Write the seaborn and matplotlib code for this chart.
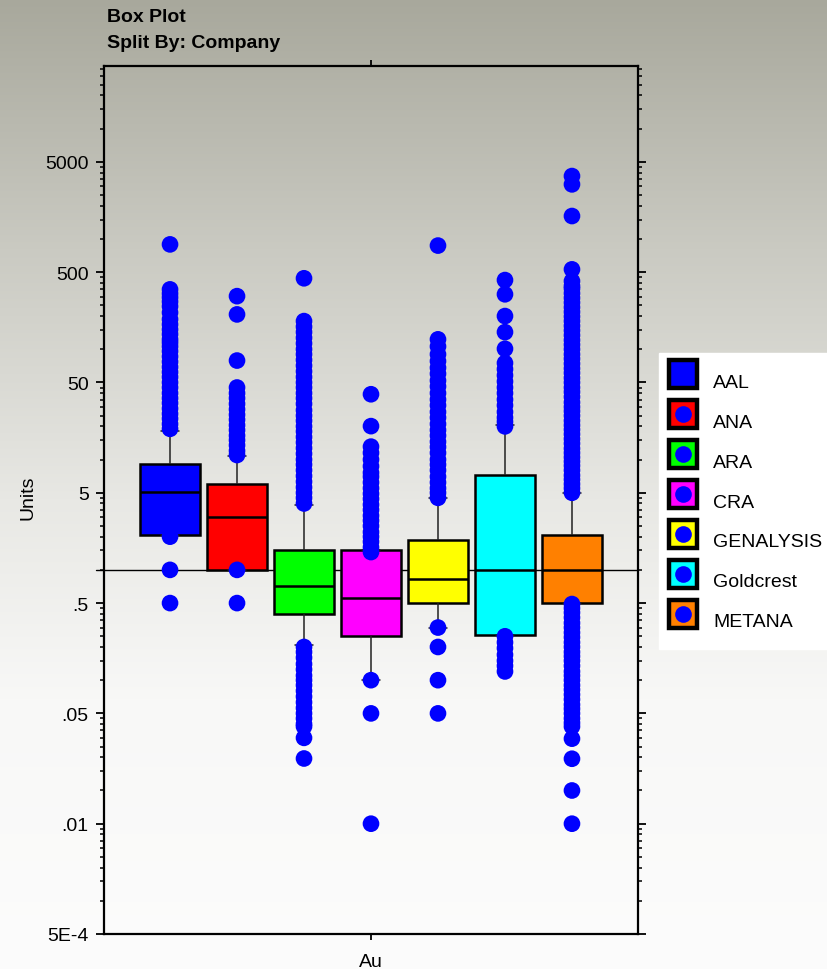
import numpy as np
import pandas as pd
import matplotlib
matplotlib.use('Agg')
import matplotlib.pyplot as plt
import matplotlib.ticker as mticker
from matplotlib.lines import Line2D
from matplotlib.legend_handler import HandlerTuple
import seaborn as sns

# Companies and their box colours
companies = ['AAL', 'ANA', 'ARA', 'CRA', 'GENALYSIS', 'Goldcrest', 'METANA']
box_colors = ['#0000ff', '#ff0000', '#00ff00', '#ff00ff', '#ffff00', '#00ffff', '#ff8000']
point_color = '#0000ff'
element = 'Au'

# Box summary (axis units): lower whisker, Q1, median, Q3, upper whisker
whisker_low = [2.06, 1.0, 0.21, 0.1, 0.3, 0.255, 0.5]
q1 = [2.06, 1.0, 0.40, 0.25, 0.5, 0.255, 0.5]
median = [5.1, 3.0, 0.72, 0.56, 0.82, 1.0, 1.0]
q3 = [9.2, 6.0, 1.53, 1.5, 1.86, 7.2, 2.05]
whisker_high = [18.0, 10.8, 3.9, 1.5, 4.5, 20.5, 5.0]

# Outlying samples per company (the ".01" label sits at 0.005 on the axis)
aal_out = [0.5, 1.0, 2.0, 19, 21, 23.5, 26, 29, 32.5, 36, 40, 45, 50, 56, 62, 69, 77,
           86, 96, 106, 115, 123, 137, 151, 168, 187, 215, 245, 270, 295, 320, 349, 893]
ana_out = [0.5, 1.0, 11, 12, 13.5, 15, 16.5, 18.5, 20.5, 23, 25.5, 28.5, 32, 36, 40,
           45, 79, 207, 303]
ara_out = [0.0195, 0.03, 0.038, 0.04, 0.045, 0.05, 0.056, 0.063, 0.071, 0.08, 0.09,
           0.1, 0.11, 0.125, 0.14, 0.16, 0.18, 0.2,
           4.0, 4.5, 5.0, 5.6, 6.3, 7.1, 8.0, 9.0, 10, 11.3, 12.7, 14.3, 16, 18, 20,
           22.5, 25, 28, 32, 36, 40, 45, 50, 56, 63, 71, 80, 90, 100, 113, 127, 143,
           160, 180, 440]
cra_out = [0.005, 0.05, 0.1, 1.45, 1.6, 1.8, 2.0, 2.2, 2.5, 2.8, 3.1, 3.5, 3.9, 4.4,
           4.9, 5.5, 6.2, 7.0, 7.6, 8.7, 10.0, 11.5, 13.1, 20.1, 39.1]
gen_out = [0.05, 0.1, 0.2, 0.3, 4.5, 5.0, 5.5, 6.2, 7.0, 8.0, 9.0, 10, 11.5, 13, 14.5,
           16.5, 18.5, 21, 24, 27, 31, 35, 40, 46, 52, 60, 68, 78, 90, 106, 123, 871]
gold_out = [0.12, 0.135, 0.15, 0.17, 0.195, 0.22, 0.25, 20, 22, 24, 27, 31, 35, 40,
            45, 51, 58, 66, 75, 101, 143, 200, 315, 424]
met_out = [0.005, 0.01, 0.0194, 0.0295, 0.038, 0.041, 0.045, 0.05, 0.055, 0.06, 0.067,
           0.074, 0.082, 0.09, 0.1, 0.11, 0.12, 0.135, 0.15, 0.165, 0.18, 0.2, 0.22,
           0.245, 0.27, 0.3, 0.33, 0.37, 0.41, 0.45, 0.49,
           5.0, 5.5, 6.0, 6.6, 7.2, 8.0, 8.8, 9.6, 10.5, 11.5, 12.6, 14, 15.4, 17,
           18.7, 20.5, 22.5, 25, 27.5, 30, 33, 37, 41, 45, 50, 55, 61, 67, 74, 82, 90,
           100, 110, 121, 134, 148, 163, 180, 198, 218, 240, 265, 292, 322, 355, 374,
           415, 530, 1614, 3126, 3717]
outliers = [aal_out, ana_out, ara_out, cra_out, gen_out, gold_out, met_out]

overall_median = 1.0

ytick_values = [5e-4, 5e-3, 5e-2, 0.5, 5, 50, 500, 5000]
ytick_labels = ['5E-4', '.01', '.05', '.5', '5', '50', '500', '5000']

# tables for seaborn
box_rows = []
for i, c in enumerate(companies):
    for v in [whisker_low[i], q1[i], median[i], q3[i], whisker_high[i]]:
        box_rows.append({'Element': element, 'Company': c, 'Units': v})
box_df = pd.DataFrame(box_rows)

out_rows = []
for c, vals in zip(companies, outliers):
    for v in vals:
        out_rows.append({'Element': element, 'Company': c, 'Units': v})
out_df = pd.DataFrame(out_rows)

sns.set_theme(style='ticks')
plt.rcParams['font.family'] = ['Liberation Sans', 'DejaVu Sans']
plt.rcParams['text.color'] = 'black'
plt.rcParams['axes.labelcolor'] = 'black'
plt.rcParams['xtick.color'] = 'black'
plt.rcParams['ytick.color'] = 'black'

W, H = 828, 970
fig = plt.figure(figsize=(W / 100, H / 100), dpi=100)

# grey-to-white gradient background
rows = np.arange(H)
stops_y = [0, 250, 500, 700, 970]
stops_c = [[168, 168, 156], [202, 202, 194], [232, 232, 228], [248, 248, 247], [252, 252, 252]]
grad = np.stack([np.interp(rows, stops_y, [s[k] for s in stops_c]) for k in range(3)], axis=-1)
bg = fig.add_axes([0, 0, 1, 1], zorder=-10)
bg.imshow(grad[:, None, :] / 255.0, aspect='auto', extent=[0, 1, 0, 1])
bg.axis('off')

ax = fig.add_axes([104 / W, 1 - 935 / H, (638 - 104) / W, (935 - 67) / H])
ax.set_facecolor('none')
ax.set_yscale('log')

palette = dict(zip(companies, box_colors))
sns.boxplot(data=box_df, x='Element', y='Units', hue='Company', hue_order=companies,
            palette=palette, saturation=1, width=0.8, gap=0.1, whis=(0, 100),
            showfliers=False, linewidth=1.8, linecolor='black',
            whiskerprops={'linewidth': 1.1, 'color': '#222222'},
            capprops={'linewidth': 1.1, 'color': '#222222'},
            medianprops={'linewidth': 1.8, 'color': 'black'},
            capwidths=0.03, legend=False, ax=ax)

sns.stripplot(data=out_df, x='Element', y='Units', hue='Company', hue_order=companies,
              palette={c: point_color for c in companies}, dodge=True, jitter=False,
              size=12, linewidth=0, legend=False, zorder=4, ax=ax)

ax.axhline(overall_median, xmin=-0.015, xmax=1, color='black', lw=1.0, zorder=0.5,
           clip_on=False)

ax.set_xlim(-0.4555, 0.4555)
ax.set_ylim(5e-4, 10 ** 4.568)
ax.set_yticks(ytick_values)
ax.set_yticklabels(ytick_labels)
minor = []
for n in range(-4, 5):
    for m in [1, 1.5, 2, 2.5, 3, 3.5, 4, 4.5]:
        minor.append(m * 10.0 ** n)
ax.yaxis.set_minor_locator(mticker.FixedLocator(minor))
ax.yaxis.set_minor_formatter(mticker.NullFormatter())
ax.set_xticks([0])
ax.set_xticklabels([element])
ax.set_xlabel('')
ax.set_ylabel('')

ax.tick_params(axis='y', which='major', direction='out', length=6, width=1.3,
               left=True, right=True, labelsize=14, pad=5)
ax.tick_params(axis='y', which='minor', direction='out', length=3, width=1.1,
               left=True, right=True)
ax.tick_params(axis='x', which='major', direction='out', length=4, width=1.3,
               bottom=True, top=True, labelsize=14, pad=10)
for s in ax.spines.values():
    s.set_visible(True)
    s.set_color('black')
    s.set_linewidth(1.6)

fig.text(107 / W, 1 - 17 / H, 'Box Plot', fontsize=14, fontweight='bold', va='center')
fig.text(107 / W, 1 - 44 / H, 'Split By: Company', fontsize=14, fontweight='bold', va='center')
fig.text(28 / W, 1 - 498 / H, 'Units', fontsize=14, rotation=90, ha='center', va='center')

handles = [(Line2D([], [], marker='s', ls='none', ms=20, mfc=c, mec='black', mew=3.2),
            Line2D([], [], marker='o', ls='none', ms=12, mfc=point_color, mec='none'))
           for c in box_colors]
leg = fig.legend(handles, companies, handler_map={tuple: HandlerTuple(ndivide=1)},
                 loc='upper left', bbox_to_anchor=(659 / W, 1 - 354 / H),
                 frameon=True, fancybox=False, facecolor='white', edgecolor='white',
                 framealpha=1, fontsize=14, handlelength=1.6, handleheight=2.7,
                 labelspacing=0.05, handletextpad=0.75, borderpad=0.45,
                 borderaxespad=0)

fig.savefig('out.png', dpi=100)
